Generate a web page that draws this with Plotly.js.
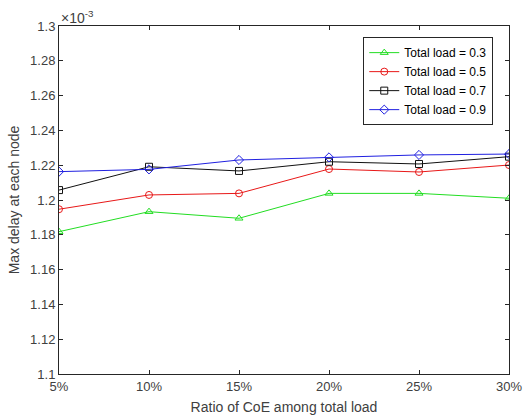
<!DOCTYPE html>
<html><head><meta charset="utf-8">
<script src="https://cdn.plot.ly/plotly-3.0.1.min.js"></script>
<style>body{margin:0;background:#fff}#c{width:528px;height:420px}</style>
</head><body><div id="c"></div>
<script>
var categories = ["5%","10%","15%","20%","25%","30%"];
var load03 = [1.1818, 1.1933, 1.1895, 1.2038, 1.2038, 1.2010];
var load05 = [1.1947, 1.2029, 1.2038, 1.2178, 1.2161, 1.2201];
var load07 = [1.2057, 1.2191, 1.2167, 1.2220, 1.2207, 1.2249];
var load09 = [1.2163, 1.2176, 1.2230, 1.2245, 1.2259, 1.2264];
var seriesNames = ["Total load = 0.3","Total load = 0.5","Total load = 0.7","Total load = 0.9"];
var yTicks = [1.1,1.12,1.14,1.16,1.18,1.2,1.22,1.24,1.26,1.28,1.3];
var yTickText = ["1.1","1.12","1.14","1.16","1.18","1.2","1.22","1.24","1.26","1.28","1.3"];

var xs = categories.map(function(_, i){return i;});
function tr(y, name, color, sym){
  return {x: xs, y: y, name: name, type:'scatter', mode:'lines+markers',
    line:{color:color, width:1},
    marker:{symbol:sym, size:7, color:color, line:{color:color, width:1}}};
}
var data = [
  tr(load03, seriesNames[0], '#22dd22', 'triangle-up-open'),
  tr(load05, seriesNames[1], '#e81818', 'circle-open'),
  tr(load07, seriesNames[2], '#111111', 'square-open'),
  tr(load09, seriesNames[3], '#2020e0', 'diamond-open')
];
var tc = '#404040';
var font = {family:'"Liberation Sans", Arial, sans-serif', size:13, color:tc};
var layout = {
  width:528, height:420, margin:{l:59, r:19, t:26, b:46},
  paper_bgcolor:'#fff', plot_bgcolor:'#fff', font:font, showlegend:true,
  xaxis:{range:[0,5], tickvals:xs, ticktext:categories, ticks:'inside', ticklen:4,
    tickcolor:'#262626', showline:true, linecolor:'#262626', linewidth:1, mirror:'ticks',
    showgrid:false, zeroline:false, tickfont:{size:13, color:tc},
    title:{text:'Ratio of CoE among total load', font:{size:14, color:tc}, standoff:9}},
  yaxis:{range:[1.1,1.3], tickvals:yTicks, ticktext:yTickText, ticks:'inside', ticklen:4,
    tickcolor:'#262626', showline:true, linecolor:'#262626', linewidth:1, mirror:'ticks',
    showgrid:false, zeroline:false, tickfont:{size:13, color:tc},
    title:{text:'Max delay at each node', font:{size:14, color:tc}, standoff:7}},
  legend:{x:0.965, y:0.968, xanchor:'right', yanchor:'top', bgcolor:'#fff',
    bordercolor:'#262626', borderwidth:1, font:{size:12, color:'#000'}, tracegroupgap:0},
  annotations:[{xref:'paper', yref:'paper', x:0, y:1, xanchor:'left', yanchor:'bottom',
    text:'×10<sup>-3</sup>', showarrow:false, font:{size:14, color:tc}, yshift:-2}]
};
Plotly.newPlot('c', data, layout, {displayModeBar:false, staticPlot:true});
</script></body></html>
